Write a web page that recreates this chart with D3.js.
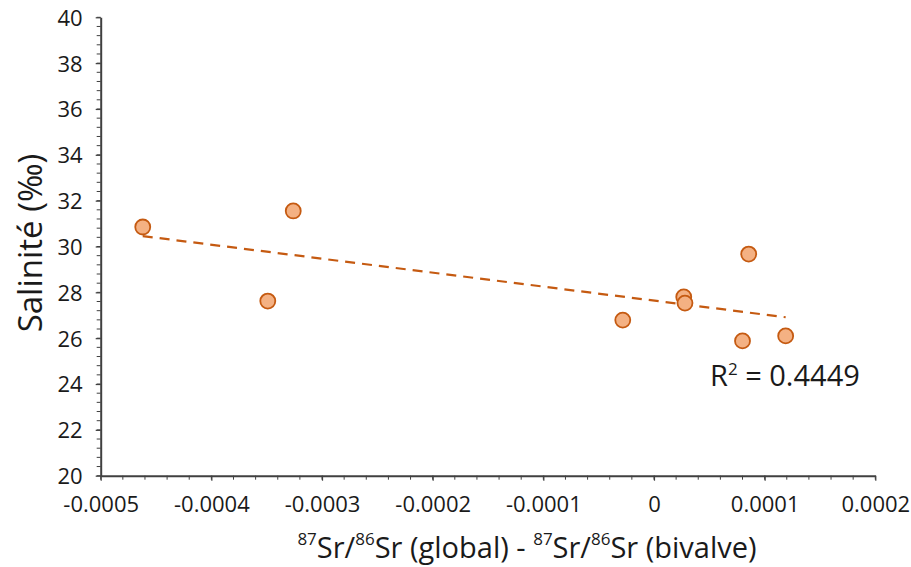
<!DOCTYPE html>
<html><head><meta charset="utf-8">
<script src="https://cdn.jsdelivr.net/npm/d3@7"></script>
<style>body{margin:0;background:#fff}svg{display:block}text{font-family:"Open Sans",Lato,sans-serif;fill:#1a1a1a}</style>
</head><body><svg id="c" width="911" height="567"></svg>
<script>
const srDiff = [-0.000462, -0.000326, -0.000349, -0.0000282, 0.0000269, 0.000028, 0.0000856, 0.00008, 0.000119];
const salinity = [30.85, 31.55, 27.62, 26.79, 27.80, 27.53, 29.67, 25.88, 26.10];
const xTicks = [-0.0005, -0.0004, -0.0003, -0.0002, -0.0001, 0, 0.0001, 0.0002];
const yTicks = [20, 22, 24, 26, 28, 30, 32, 34, 36, 38, 40];
const r2Label = "0.4449";

const svg = d3.select("#c");
const L = 100.7, R = 875.3, T = 17.3, B = 475.7;
const x = d3.scaleLinear().domain([-0.0005, 0.0002]).range([L, R]);
const y = d3.scaleLinear().domain([20, 40]).range([B, T]);
const axisCol = "#404040";
const FF = "'Open Sans', Lato, sans-serif";

const xMinor = d3.range(0, 36).map(i => -0.0005 + i * 0.00002);
const yMinor = d3.range(0, 51).map(i => 20 + i * 0.4);
svg.append("g").selectAll("line").data(xMinor).join("line")
  .attr("x1", d => x(d)).attr("x2", d => x(d)).attr("y1", B).attr("y2", B + 4)
  .attr("stroke", axisCol).attr("stroke-width", 1);
svg.append("g").selectAll("line").data(yMinor).join("line")
  .attr("y1", d => y(d)).attr("y2", d => y(d)).attr("x1", L - 4).attr("x2", L)
  .attr("stroke", axisCol).attr("stroke-width", 1);

const fmt = d => d === 0 ? "0" : d.toFixed(4);
const xAxis = svg.append("g").attr("transform", `translate(0,${B})`)
  .call(d3.axisBottom(x).tickValues(xTicks).tickFormat(fmt).tickSize(5).tickSizeOuter(0));
const yAxis = svg.append("g").attr("transform", `translate(${L},0)`)
  .call(d3.axisLeft(y).tickValues(yTicks).tickFormat(d3.format("d")).tickSize(5).tickSizeOuter(0));
[xAxis, yAxis].forEach(g => {
  g.attr("font-size", 22).attr("font-family", FF);
  g.select(".domain").attr("stroke", axisCol).attr("stroke-width", 2);
  g.selectAll(".tick line").attr("stroke", axisCol).attr("stroke-width", 1.2);
  g.selectAll("text").attr("fill", "#1a1a1a");
});
xAxis.selectAll("text").attr("y", 36).attr("dy", null);
yAxis.selectAll("text").attr("x", -18).attr("dy", "0.36em");

// regression
const n = srDiff.length;
const mx = d3.mean(srDiff), my = d3.mean(salinity);
let sxy = 0, sxx = 0;
for (let i = 0; i < n; i++) { sxy += (srDiff[i] - mx) * (salinity[i] - my); sxx += (srDiff[i] - mx) ** 2; }
const slope = sxy / sxx, icpt = my - slope * mx;
const [x0, x1] = d3.extent(srDiff);
svg.append("line")
  .attr("x1", x(x0)).attr("y1", y(icpt + slope * x0))
  .attr("x2", x(x1)).attr("y2", y(icpt + slope * x1))
  .attr("stroke", "#C55A11").attr("stroke-width", 2.2).attr("stroke-dasharray", "10,7");

svg.append("g").selectAll("circle").data(srDiff).join("circle")
  .attr("cx", d => x(d)).attr("cy", (d, i) => y(salinity[i])).attr("r", 7.5)
  .attr("fill", "#F4B183").attr("stroke", "#C55A11").attr("stroke-width", 1.8);

// R² label
const rt = svg.append("text").attr("x", 710).attr("y", 386).style("font-size", "29px");
rt.append("tspan").text("R");
rt.append("tspan").attr("dy", -11).style("font-size", "17px").text("2");
rt.append("tspan").attr("dy", 11).text(" = " + r2Label);

// Y title
svg.append("text").attr("transform", "translate(42,243) rotate(-90)").attr("text-anchor", "middle")
  .style("font-size", "33px").text("Salinité (‰)");

// X title
const xt = svg.append("text").attr("x", 527).attr("y", 558).attr("text-anchor", "middle").style("font-size", "29px");
const sup = t => xt.append("tspan").attr("dy", -13).style("font-size", "17px").text(t);
const base = t => xt.append("tspan").attr("dy", 13).text(t);
sup("87"); base("Sr/"); sup("86"); base("Sr (global) - ");
sup("87"); base("Sr/"); sup("86"); base("Sr (bivalve)");
</script></body></html>
